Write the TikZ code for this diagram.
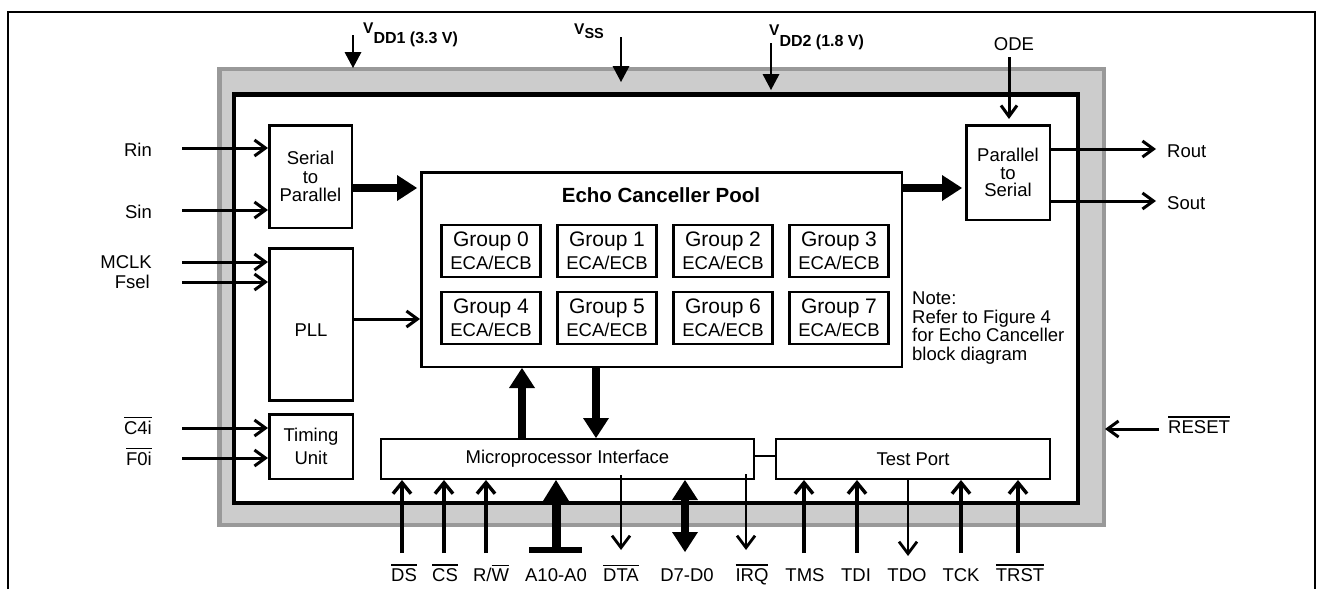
\documentclass[tikz,border=0pt]{standalone}
\usepackage{fontspec}
\setmainfont{Liberation Sans}
\usetikzlibrary{arrows.meta}
\definecolor{bandfill}{HTML}{CCCCCC}
\definecolor{bandedge}{HTML}{999999}
\newcommand\fsz[2]{\fontsize{#1}{#2}\selectfont}
\newsavebox\ovlbox
\newlength\ovlh
\newcommand\ovl[1]{\sbox\ovlbox{#1}\setlength\ovlh{\ht\ovlbox}\addtolength\ovlh{2.5pt}\rlap{\raisebox{\ovlh}{\rule{\wd\ovlbox}{1.6pt}}}\usebox\ovlbox}
\begin{document}
\begin{tikzpicture}[x=1pt,y=-1pt,
  blk/.style={draw,line width=2.5pt,fill=white,align=center,inner sep=0pt,font=\fsz{18.5}{18.5}},
  grp/.style={draw,line width=2.5pt,fill=white,align=center,inner sep=0pt,minimum width=99pt,minimum height=52pt,font=\fsz{21}{23}},
  tbox/.style={draw,line width=2pt,fill=white,inner sep=0pt,font=\fsz{18.5}{18.5}},
  lbl/.style={inner sep=0pt,font=\fsz{18.5}{18.5}},
  pwrlbl/.style={inner sep=0pt,anchor=base west,font=\fsz{15.5}{15}\bfseries},
  inarr/.style={line width=3pt,-{Straight Barb[length=11pt,width=16pt]}},
  inB/.style={line width=3.4pt,-{Straight Barb[length=11pt,width=18pt]}},
  outB/.style={line width=2.8pt,-{Straight Barb[length=12pt,width=18pt]}},
  thk/.style={line width=8pt,-{Triangle[length=20pt,width=26pt,line width=0pt]}},
  pwr/.style={line width=2.4pt,-{Triangle[length=16pt,width=17pt,line width=0pt]}}]
\useasboundingbox (0,0) rectangle (1322,589);
% page frame
\draw[line width=2pt] (8,589) -- (8,12) -- (1315,12) -- (1315,589);
% band and chip
\draw[draw=bandedge,fill=bandfill,line width=4.5pt] (219.25,68.75) rectangle (1103.75,524.75);
\draw[line width=4.5pt,fill=white] (234,94.5) rectangle (1078,503);

% blocks
\node[blk,minimum width=82.5pt,minimum height=102.5pt] (s2p) at (310.5,176.5) {Serial\\to\\Parallel};
\node[blk,minimum width=83.5pt,minimum height=152pt] (pll) at (311,324.5) {};
\node[lbl] (pllt) at (311,330) {PLL};
\node[blk,minimum width=83.5pt,minimum height=64.5pt,font=\fsz{18.5}{23}] (tim) at (311,446.5) {Timing\\Unit};
\node[blk,minimum width=83.5pt,minimum height=94.5pt,font=\fsz{18.5}{17.5}] (p2s) at (1008,172.5) {Parallel\\to\\Serial};
\node[blk,minimum width=480.5pt,minimum height=194.5pt] (pool) at (661.5,269.5) {};
\node[anchor=base,inner sep=0pt,font=\fsz{20.5}{21}\bfseries] (title) at (661,202) {Echo Canceller Pool};
\foreach \i/\cx/\cy in {0/491/251,1/607/251,2/723/251,3/839/251,4/491/318,5/607/318,6/723/318,7/839/318}
  \node[grp] (g\i) at (\cx,\cy) {Group \i\\{\fsz{18.5}{23}ECA/ECB}};
\node[lbl,anchor=north west,align=left] (note) at (912,292) {Note:\\Refer to Figure 4\\for Echo Canceller\\block diagram};
\node[tbox,minimum width=373pt,minimum height=40pt] (mpi) at (567.5,459) {Microprocessor Interface};
\node[tbox,minimum width=274pt,minimum height=40pt] (tp) at (913,459) {Test Port};
\draw[line width=2pt] (mpi.east |- 0,456) -- (tp.west |- 0,456);

% left inputs
\node[lbl,anchor=base east] (rin) at (152,156) {Rin};
\node[lbl,anchor=base east] (sin) at (152,218) {Sin};
\node[lbl,anchor=base east] (mclk) at (152,268) {MCLK};
\node[lbl,anchor=base east] (fsel) at (150,288) {Fsel};
\node[lbl,anchor=base east] (c4i) at (152,434) {\ovl{C4i}};
\node[lbl,anchor=base east] (f0i) at (152,465) {\ovl{F0i}};
\coordinate (rinS) at (182,148);
\coordinate (sinS) at (182,210);
\coordinate (mclkS) at (182,262);
\coordinate (fselS) at (182,282);
\coordinate (c4iS) at (182,428);
\coordinate (f0iS) at (182,458);
\draw[inarr] (rinS) -- (rinS -| s2p.west);
\draw[inarr] (sinS) -- (sinS -| s2p.west);
\draw[inarr] (mclkS) -- (mclkS -| pll.west);
\draw[inarr] (fselS) -- (fselS -| pll.west);
\draw[inarr] (c4iS) -- (c4iS -| tim.west);
\draw[inarr] (f0iS) -- (f0iS -| tim.west);

% internal connections
\coordinate (dat) at (0,188);
\draw[thk,shorten >=3pt] (dat -| s2p.east) -- (dat -| pool.west);
\draw[thk,shorten >=3pt] (dat -| pool.east) -- (dat -| p2s.west);
\coordinate (pllY) at (0,319);
\draw[inarr] (pllY -| pll.east) -- (pllY -| pool.west);
\coordinate (upX) at (522,0);
\coordinate (dnX) at (596,0);
\draw[thk] (upX |- mpi.north) -- (upX |- pool.south);
\draw[thk] (dnX |- pool.south) -- (dnX |- mpi.north);

% right outputs
\node[lbl,anchor=base west] (rout) at (1167,157) {Rout};
\node[lbl,anchor=base west] (sout) at (1167,209) {Sout};
\coordinate (routE) at (1156,149);
\coordinate (soutE) at (1156,201);
\draw[inarr] (routE -| p2s.east) -- (routE);
\draw[inarr] (soutE -| p2s.east) -- (soutE);
\node[lbl,anchor=base] (ode) at (1014,50) {ODE};
\coordinate (odeS) at (1009,57);
\draw[inarr] (odeS) -- (1009,119);
\node[lbl,anchor=base west] (reset) at (1168,433) {\ovl{RESET}};
\coordinate (resetS) at (1159,429);
\draw[inarr] (resetS) -- (1105,429);

% power
\node[pwrlbl] (vdd1) at (363,33.5) {V\raisebox{-9.5pt}{\fsz{16}{15}DD1 (3.3 V)}};
\node[pwrlbl] (vss) at (574,34) {V\raisebox{-5pt}{\fsz{14.5}{15}SS}};
\node[pwrlbl] (vdd2) at (769,35) {V\raisebox{-11pt}{\fsz{16}{15}DD2 (1.8 V)}};
\coordinate (vdd1S) at (353,35);
\coordinate (vssS) at (621,37);
\coordinate (vdd2S) at (771,43);
\draw[pwr] (vdd1S) -- (353,68);
\draw[pwr] (vssS) -- (621,82);
\draw[pwr] (vdd2S) -- (771,90);

% bottom pins
\foreach \x/\nm in {402/ds,444/cs,486/rw}{
  \coordinate (a\nm) at (\x,553);
  \draw[inB] (a\nm) -- (a\nm |- mpi.south);
}
\foreach \x/\nm in {804/tms,857/tdi,961/tck,1018/trst}{
  \coordinate (a\nm) at (\x,553);
  \draw[inB] (a\nm) -- (a\nm |- tp.south);
}
\coordinate (aaddr) at (556,550);
\draw[line width=6pt] (529,550) -- (582,550);
\draw[line width=9pt,-{Triangle[length=21pt,width=26pt,line width=0pt]}] (aaddr) -- (aaddr |- mpi.south);
\coordinate (adata) at (685,552);
\draw[line width=8pt,{Triangle[length=20pt,width=26pt,line width=0pt]}-{Triangle[length=20pt,width=26pt,line width=0pt]}] (adata |- mpi.south) -- (adata);
\coordinate (adta) at (621,550);
\coordinate (airq) at (746,550);
\draw[outB] (621,475) -- (adta);
\draw[outB] (746,474) -- (airq);
\coordinate (atdo) at (908,556);
\draw[outB] (atdo |- tp.south) -- (atdo);

\node[lbl,anchor=base] (lds) at (404,581.5) {\ovl{DS}};
\node[lbl,anchor=base] (lcs) at (445,581.5) {\ovl{CS}};
\node[lbl,anchor=base] (lrw) at (491,581.5) {R/\ovl{W}};
\node[lbl,anchor=base] (laddr) at (556,581.5) {A10-A0};
\node[lbl,anchor=base] (ldta) at (621,581.5) {\ovl{DTA}};
\node[lbl,anchor=base] (ldata) at (687,581.5) {D7-D0};
\node[lbl,anchor=base] (lirq) at (752,581.5) {\ovl{IRQ}};
\node[lbl,anchor=base] (ltms) at (805,581.5) {TMS};
\node[lbl,anchor=base] (ltdi) at (856,581.5) {TDI};
\node[lbl,anchor=base] (ltdo) at (907,581.5) {TDO};
\node[lbl,anchor=base] (ltck) at (961,581.5) {TCK};
\node[lbl,anchor=base] (ltrst) at (1020,581.5) {\ovl{TRST}};
\end{tikzpicture}
\end{document}
